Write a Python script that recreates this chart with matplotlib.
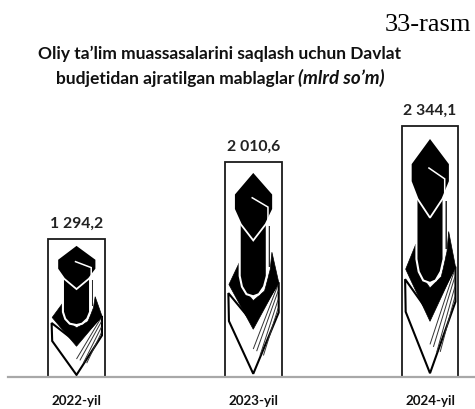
import matplotlib
matplotlib.use("Agg")
import matplotlib.pyplot as plt
from matplotlib.patches import Polygon

years = ["2022-yil", "2023-yil", "2024-yil"]
values = [1294.2, 2010.6, 2344.1]
value_labels = ["1 294,2", "2 010,6", "2 344,1"]

bar_width = 0.32

# graduation icon outlines, as fractions of a bar (u across, v up)
book = [(0.06, 0.39), (0.07, 0.26), (0.50, 0.015), (0.95, 0.30), (0.95, 0.44), (0.50, 0.25)]
collar = [(0.25, 0.53), (0.30, 0.42), (0.50, 0.355), (0.70, 0.40), (0.80, 0.50), (0.83, 0.58),
          (0.95, 0.44), (0.50, 0.222), (0.07, 0.43)]
tower = [(0.26, 0.74), (0.74, 0.74), (0.74, 0.47), (0.69, 0.42), (0.60, 0.385), (0.50, 0.375),
         (0.38, 0.385), (0.30, 0.42), (0.26, 0.47)]
cap = [(0.50, 0.955), (0.85, 0.85), (0.85, 0.78), (0.72, 0.71), (0.50, 0.635), (0.28, 0.71),
       (0.16, 0.78), (0.16, 0.85)]
tassel_white = [(0.47, 0.835), (0.76, 0.79), (0.76, 0.51)]
tassel_black = [(0.78, 0.70), (0.78, 0.51)]
hatch_lines = [((0.50, 0.13), (0.94, 0.43)), ((0.56, 0.12), (0.94, 0.40)),
               ((0.62, 0.10), (0.94, 0.36)), ((0.68, 0.10), (0.94, 0.32))]


def to_data(points, i, value):
    left = i - bar_width / 2
    return [(left + u * bar_width, v * value) for u, v in points]


def draw_path(points, i, value, color, lw, z):
    pts = to_data(points, i, value)
    ax.plot([p[0] for p in pts], [p[1] for p in pts], color=color, lw=lw, zorder=z,
            solid_capstyle="butt", solid_joinstyle="miter")


fig = plt.figure(figsize=(4.75, 4.10), dpi=100)
ax = fig.add_axes([8 / 475, 32 / 410, 467 / 475, 378 / 410])
ax.patch.set_alpha(0)

for i in range(len(values)):
    v = values[i]
    ax.bar(i, v, width=bar_width, color="white", edgecolor="#1a1a1a", linewidth=1.3, zorder=1)
    ax.add_patch(Polygon(to_data(book, i, v), fc="white", ec="black", lw=1.5, zorder=2))
    ax.add_patch(Polygon(to_data(collar, i, v), fc="black", ec="black", lw=0.5, zorder=3))
    ax.add_patch(Polygon(to_data(tower, i, v), fc="black", ec="white", lw=1.5, zorder=4))
    ax.add_patch(Polygon(to_data(cap, i, v), fc="black", ec="white", lw=1.3, zorder=5))
    draw_path(tassel_black, i, v, "black", 1.2, 6)
    draw_path(tassel_white, i, v, "white", 1.1, 7)
    for line in hatch_lines:
        draw_path(line, i, v, "#333333", 0.7, 2.5)
    ax.text(i, v + 85, value_labels[i], ha="center", va="bottom", fontsize=11.3,
            fontweight="bold", family="Lato", color="#222222")

ax.set_xlim(-0.3876, 2.2546)
ax.set_ylim(0, 3533)
ax.set_xticks(range(len(years)))
ax.set_xticklabels(years, fontsize=9.6, fontweight="bold", family="Lato", color="#111111")
ax.tick_params(axis="x", length=0, pad=12)
ax.set_yticks([])
for side in ["top", "left", "right"]:
    ax.spines[side].set_visible(False)
ax.spines["bottom"].set_color("#a8a8a8")
ax.spines["bottom"].set_linewidth(1.6)

fig.text(471 / 475, 1 - 31 / 410, "33-rasm", ha="right", va="baseline", fontsize=19,
         family="Liberation Serif", color="black")
fig.text(38 / 475, 1 - 59 / 410, "Oliy ta\u2019lim muassasalarini saqlash uchun Davlat",
         ha="left", va="baseline", fontsize=12.5, fontweight="bold", family="Lato", color="#111111")
fig.text(295 / 475, 1 - 84 / 410, "budjetidan ajratilgan mablaglar",
         ha="right", va="baseline", fontsize=12.5, fontweight="bold", family="Lato", color="#111111")
fig.text(298 / 475, 1 - 84 / 410, "(mlrd so\u2019m)",
         ha="left", va="baseline", fontsize=13.5, fontweight="bold", style="italic", family="Lato", color="#111111")

fig.savefig("out.png", dpi=100)
